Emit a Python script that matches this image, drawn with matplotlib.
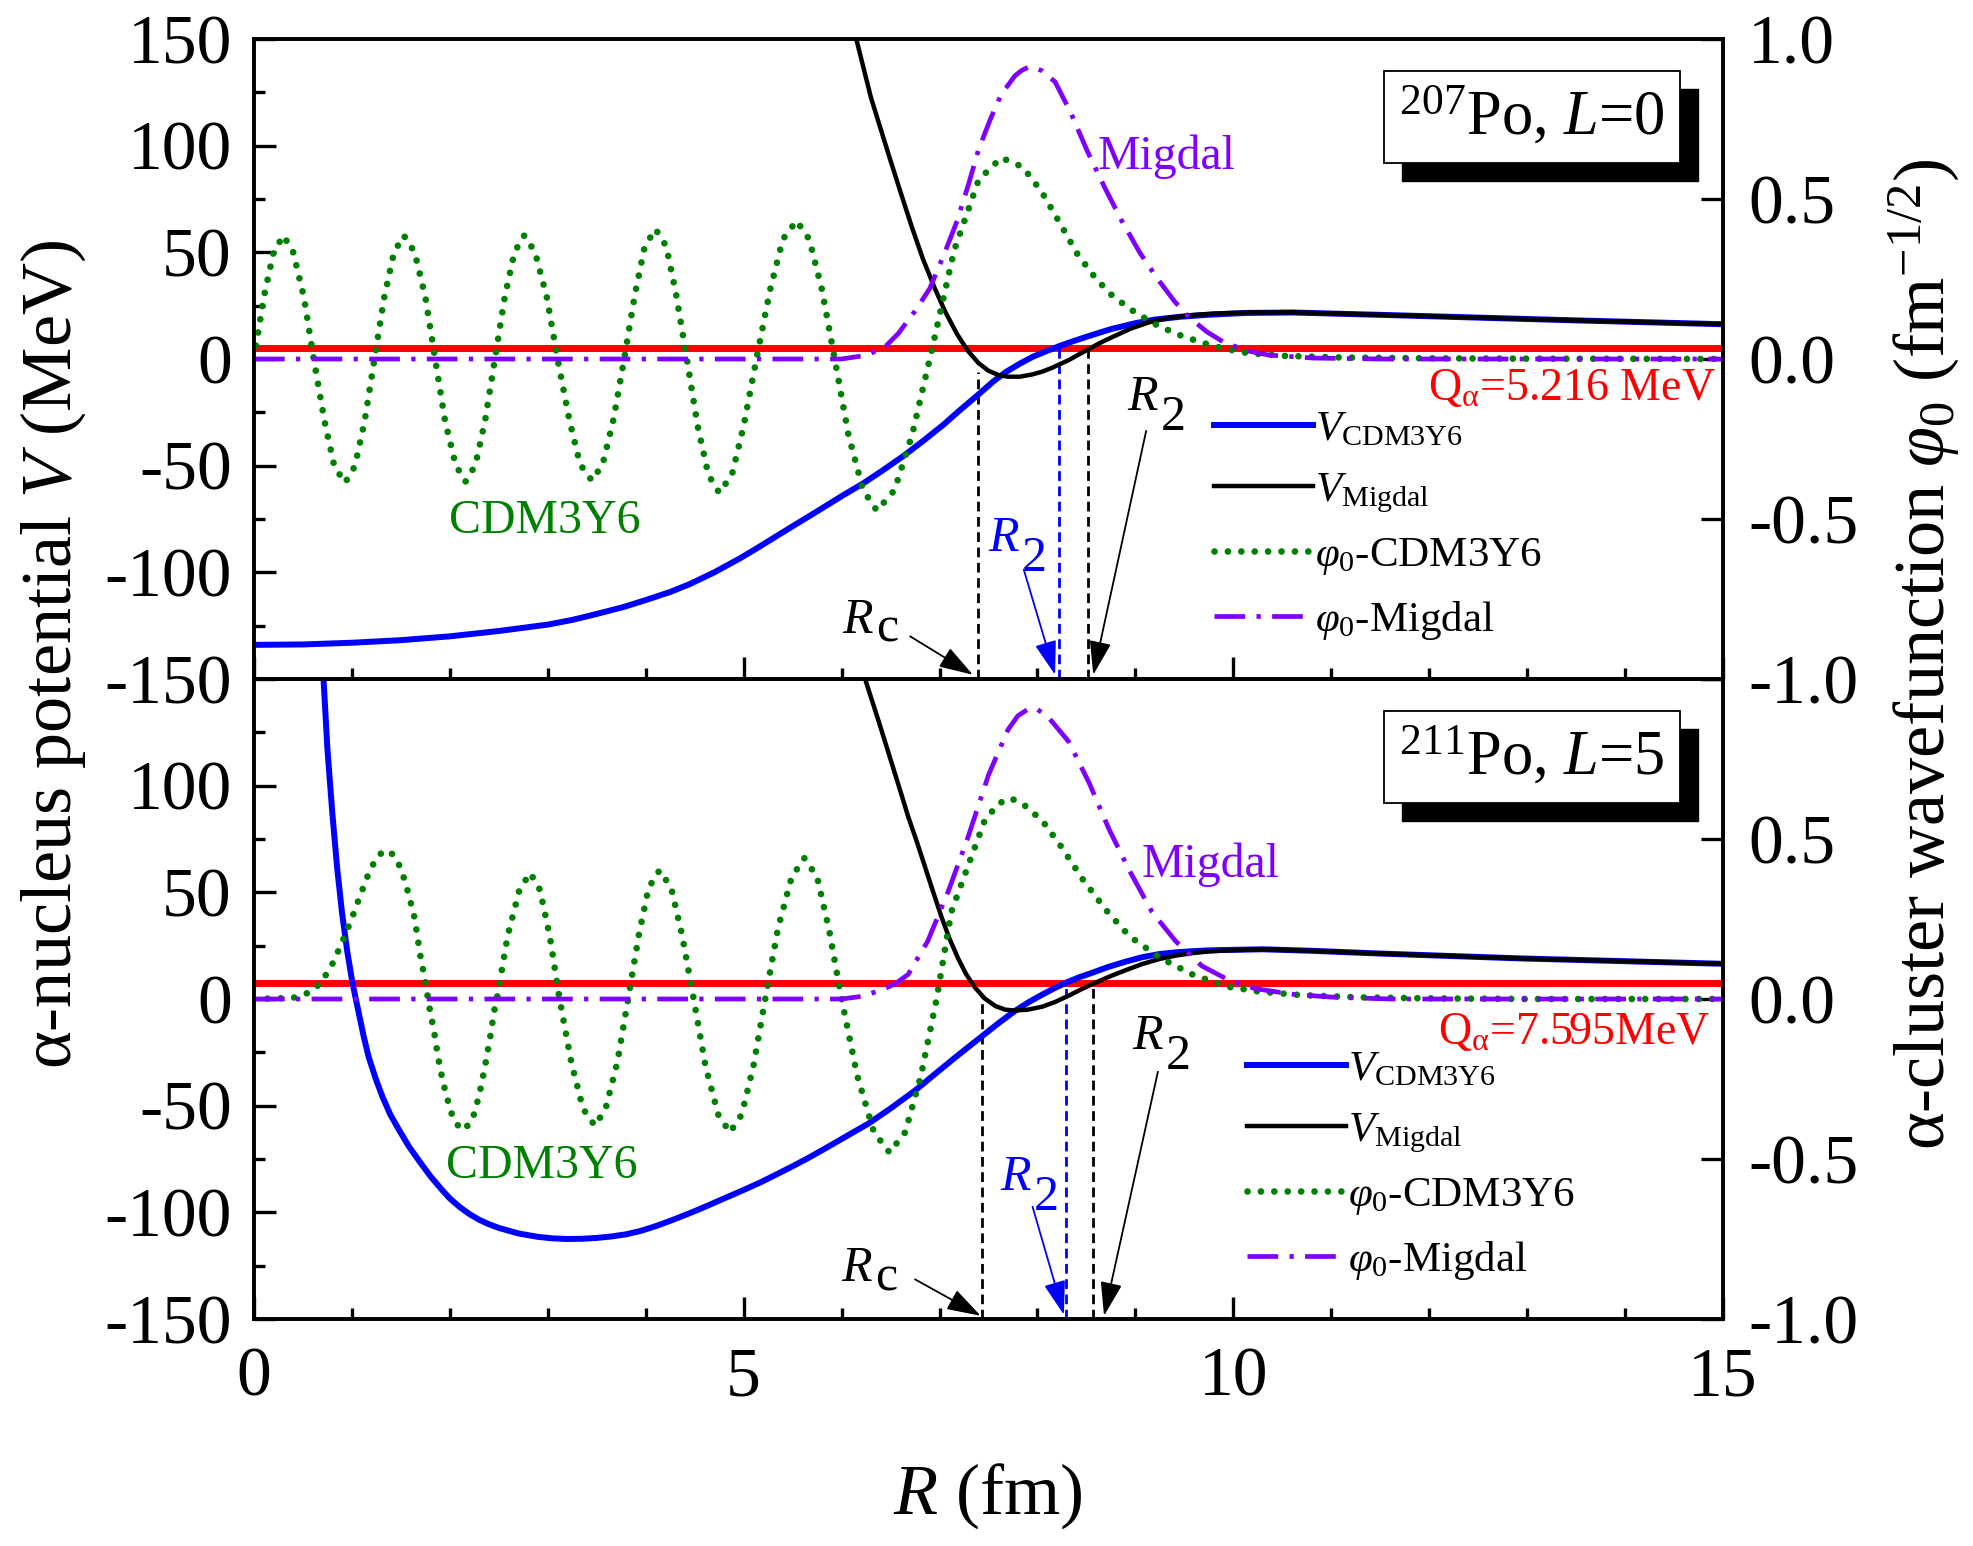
import matplotlib
matplotlib.use('Agg')
import matplotlib.pyplot as plt
from matplotlib.ticker import MultipleLocator
from matplotlib.transforms import offset_copy
from matplotlib.patches import Rectangle

# values, (R in fm, V in MeV) or (R in fm, phi in fm^-1/2)

# 207Po, L=0 (top panel)
vcdm_top = [(0.0, -134.0), (0.5, -133.8), (1.0, -133.0), (1.5, -131.8), (2.0, -130.0), (2.5, -127.5),
            (3.0, -124.5), (3.25, -122.3), (3.5, -119.5), (3.77, -116.3), (4.0, -113.0), (4.25, -109.2),
            (4.45, -105.5), (4.7, -100.0), (4.96, -93.5), (5.15, -88.3), (5.34, -82.9), (5.55, -77.0),
            (5.8, -70.0), (6.0, -64.3), (6.22, -58.3), (6.42, -52.2), (6.63, -45.5), (6.83, -38.5),
            (7.04, -30.8), (7.2, -24.3), (7.40, -16.5), (7.55, -10.5), (7.68, -6.0), (7.82, -2.2),
            (7.95, 1.0), (8.08, 3.5), (8.22, 6.0), (8.38, 8.6), (8.54, 11.0), (8.75, 14.0), (9.0, 16.8),
            (9.2, 18.5), (9.46, 19.8), (9.7, 20.6), (9.9, 21.1), (10.14, 21.6), (10.6, 21.8),
            (11.5, 20.7), (12.5, 19.4), (13.5, 18.1), (14.5, 16.9), (15.0, 16.3)]
vmig_top = [(6.05, 168), (6.15, 150), (6.30, 122.5), (6.49, 94.4), (6.60, 78.5), (6.72, 61.5),
            (6.83, 47), (6.95, 33.3), (7.06, 22), (7.18, 11.6), (7.29, 3.8), (7.40, -2.0), (7.50, -5.5),
            (7.60, -7.5), (7.70, -8.3), (7.82, -8.3), (7.95, -7.2), (8.05, -5.9), (8.15, -4.1),
            (8.32, -0.5), (8.52, 4.6), (8.65, 7.8), (8.77, 10.4), (8.95, 14.2), (9.14, 17.2),
            (9.35, 19.3), (9.55, 20.5), (9.8, 21.3), (10.14, 21.8), (10.6, 21.9), (11.5, 20.7),
            (12.5, 19.4), (13.5, 18.1), (14.5, 16.9), (15.0, 16.3)]
phicdm_top = [(0.00, 0.000), (0.10, 0.193), (0.20, 0.334), (0.30, 0.386), (0.40, 0.334), (0.51, 0.193),
              (0.61, 0.000), (0.72, -0.194), (0.82, -0.335), (0.93, -0.387), (1.03, -0.335),
              (1.13, -0.194), (1.23, 0.000), (1.33, 0.193), (1.43, 0.334), (1.53, 0.386), (1.64, 0.334),
              (1.75, 0.193), (1.85, 0.000), (1.95, -0.192), (2.06, -0.332), (2.16, -0.383),
              (2.26, -0.332), (2.36, -0.192), (2.46, 0.000), (2.56, 0.193), (2.66, 0.334), (2.76, 0.386),
              (2.87, 0.334), (2.99, 0.193), (3.10, 0.000), (3.22, -0.190), (3.33, -0.329), (3.45, -0.380),
              (3.56, -0.329), (3.67, -0.190), (3.78, 0.000), (3.89, 0.203), (3.99, 0.352), (4.10, 0.406),
              (4.21, 0.352), (4.31, 0.203), (4.42, 0.000), (4.53, -0.209), (4.64, -0.362), (4.75, -0.418),
              (4.88, -0.362), (5.00, -0.209), (5.13, 0.000), (5.27, 0.216), (5.40, 0.374), (5.54, 0.432),
              (5.67, 0.374), (5.80, 0.216), (5.93, 0.000), (6.07, -0.237), (6.22, -0.410), (6.36, -0.474),
              (6.54, -0.410), (6.72, -0.237), (6.90, 0.000), (7.15, 0.340), (7.40, 0.560), (7.63, 0.629),
              (7.85, 0.600), (8.04, 0.524), (8.20, 0.440), (8.41, 0.327), (8.60, 0.250), (8.77, 0.196),
              (9.00, 0.145), (9.23, 0.104), (9.45, 0.075), (9.68, 0.051), (9.90, 0.033), (10.14, 0.019),
              (10.50, 0.010), (11.05, 0.005), (12.0, 0.002), (13.0, 0.001), (15.0, 0.000)]
phimig_top = [(0, 0), (6.0, 0), (6.26, 0.012), (6.45, 0.04), (6.58, 0.08), (6.75, 0.15), (6.90, 0.22),
              (7.05, 0.33), (7.18, 0.432), (7.30, 0.55), (7.40, 0.656), (7.52, 0.75), (7.63, 0.827),
              (7.77, 0.885), (7.84, 0.902), (7.91, 0.912), (7.98, 0.910), (8.05, 0.90), (8.18, 0.866),
              (8.34, 0.77), (8.50, 0.656), (8.68, 0.54), (8.86, 0.432), (9.05, 0.33), (9.23, 0.249),
              (9.40, 0.18), (9.55, 0.130), (9.73, 0.085), (9.91, 0.051), (10.15, 0.025), (10.37, 0.012),
              (10.82, 0.003), (11.5, 0.0), (15.0, 0.0)]

# 211Po, L=5 (bottom panel)
vcdm_bot = [(0.66, 200), (0.71, 150), (0.75, 117), (0.80, 87), (0.85, 61), (0.90, 40), (0.95, 23),
            (1.00, 9), (1.035, 1), (1.07, -6.6), (1.12, -17.5), (1.17, -27), (1.24, -37), (1.31, -45.6),
            (1.39, -54), (1.48, -61.3), (1.58, -69), (1.68, -75.5), (1.80, -83), (1.92, -89.5),
            (2.0, -93.5), (2.1, -97.5), (2.2, -100.8), (2.3, -103.5), (2.4, -105.6), (2.5, -107.3),
            (2.7, -109.9), (2.9, -111.5), (3.05, -112.2), (3.2, -112.5), (3.35, -112.4), (3.5, -112),
            (3.65, -111.3), (3.8, -110.3), (3.95, -108.7), (4.1, -106.5), (4.25, -104.0), (4.4, -101.3),
            (4.55, -98.5), (4.69, -95.7), (4.85, -92.5), (5.0, -89.5), (5.17, -86.0), (5.34, -82.1),
            (5.5, -78.4), (5.66, -74.5), (5.85, -69.6), (6.05, -64.3), (6.27, -58.5), (6.5, -51.3),
            (6.75, -42.9), (6.95, -35.3), (7.16, -27.4), (7.3, -22.3), (7.43, -17.6), (7.6, -11.4),
            (7.77, -5.6), (7.91, -1.5), (8.05, 2.1), (8.17, 5.0), (8.29, 7.6), (8.42, 10.1),
            (8.56, 12.3), (8.72, 15.0), (8.90, 17.5), (9.07, 19.6), (9.25, 21.1), (9.42, 21.9),
            (9.58, 22.4), (9.75, 22.8), (9.93, 23.0), (10.30, 23.3), (10.80, 22.6), (11.50, 21.3),
            (12.95, 19.0), (15.0, 16.5)]
vmig_bot = [(6.15, 168), (6.24, 150), (6.38, 130), (6.51, 110.8), (6.60, 97.5), (6.68, 85.5),
            (6.77, 73.5), (6.85, 62.2), (6.94, 49.5), (7.02, 38.5), (7.10, 28.5), (7.19, 19.0),
            (7.27, 11.8), (7.36, 5.5), (7.46, 0.3), (7.57, -3.3), (7.67, -5.0), (7.77, -5.4),
            (7.90, -5.0), (8.05, -3.6), (8.18, -1.4), (8.32, 1.6), (8.45, 4.6), (8.59, 7.6),
            (8.75, 10.8), (8.90, 13.5), (9.07, 16.4), (9.25, 18.8), (9.42, 20.4), (9.58, 21.5),
            (9.75, 22.3), (9.93, 22.8), (10.30, 23.3), (10.80, 22.6), (11.50, 21.3), (12.95, 19.0),
            (15.0, 16.5)]
phicdm_bot = [(0.00, 0.000), (0.39, 0.003), (0.51, 0.013), (0.62, 0.031), (0.70, 0.060), (0.78, 0.096),
              (0.89, 0.170), (0.99, 0.245), (1.08, 0.320), (1.175, 0.396), (1.25, 0.440), (1.33, 0.465),
              (1.42, 0.452), (1.50, 0.409), (1.575, 0.332), (1.64, 0.253), (1.70, 0.133), (1.75, 0.054),
              (1.79, -0.024), (1.84, -0.104), (1.88, -0.183), (1.93, -0.260), (2.00, -0.341),
              (2.04, -0.378), (2.12, -0.410), (2.21, -0.389), (2.26, -0.349), (2.32, -0.271),
              (2.37, -0.192), (2.415, -0.113), (2.455, -0.034), (2.48, 0.000), (2.59, 0.197),
              (2.71, 0.341), (2.82, 0.394), (2.92, 0.341), (3.02, 0.197), (3.12, 0.000), (3.24, -0.198),
              (3.36, -0.343), (3.48, -0.396), (3.59, -0.343), (3.71, -0.198), (3.82, 0.000),
              (3.93, 0.201), (4.03, 0.348), (4.14, 0.402), (4.26, 0.348), (4.37, 0.201), (4.49, 0.000),
              (4.61, -0.209), (4.74, -0.361), (4.86, -0.417), (4.98, -0.361), (5.10, -0.209),
              (5.22, 0.000), (5.35, 0.220), (5.49, 0.381), (5.62, 0.440), (5.75, 0.381), (5.87, 0.220),
              (6.00, 0.000), (6.16, -0.240), (6.33, -0.416), (6.49, -0.480), (6.65, -0.416),
              (6.81, -0.240), (6.97, 0.000), (7.12, 0.272), (7.29, 0.415), (7.46, 0.557), (7.60, 0.610),
              (7.72, 0.628), (7.85, 0.610), (8.05, 0.557), (8.25, 0.473), (8.46, 0.375), (8.70, 0.278),
              (8.94, 0.196), (9.25, 0.129), (9.58, 0.077), (9.93, 0.039), (10.27, 0.023), (10.70, 0.012),
              (11.30, 0.005), (12.0, 0.002), (13.0, 0.000), (15.0, 0.000)]
phimig_bot = [(0, 0), (6.0, 0), (6.2, 0.008), (6.41, 0.028), (6.55, 0.048), (6.68, 0.077), (6.88, 0.181),
              (7.09, 0.337), (7.29, 0.505), (7.50, 0.70), (7.70, 0.842), (7.80, 0.885), (7.91, 0.907),
              (8.0, 0.905), (8.11, 0.881), (8.32, 0.804), (8.53, 0.674), (8.73, 0.531), (8.94, 0.401),
              (9.17, 0.272), (9.41, 0.181), (9.68, 0.103), (9.96, 0.058), (10.23, 0.032), (10.6, 0.015),
              (11.0, 0.006), (11.6, 0.0), (15.0, 0.0)]

# Q values and the radii marked by dashed lines
q_alpha = [5.216, 7.595]
r_c = [7.39, 7.43]
r_c_end = [-6.0, 1.0]
r2_cdm = [8.22, 8.29]
r2_mig = [8.52, 8.57]
titles = [r'$^{207}$Po, $L$=0', r'$^{211}$Po, $L$=5']
q_labels = [r'Q$_{\mathrm{\alpha}}$=5.216 MeV', r'Q$_{\mathrm{\alpha}}$=7.595MeV']

plt.rcParams.update({
    'font.family': ['Liberation Serif', 'DejaVu Serif'],
    'mathtext.fontset': 'custom',
    'mathtext.rm': 'Liberation Serif',
    'mathtext.it': 'Liberation Serif:italic',
    'mathtext.bf': 'Liberation Serif:bold',
    'axes.unicode_minus': False,
})

BLUE = '#0000FF'
GREEN = '#008000'
PURPLE = '#8000FF'
RED = '#FF0000'

fig = plt.figure(figsize=(19.74, 15.46), dpi=100)
ax_top = fig.add_axes([0.12867, 0.56080, 0.74417, 0.41397])
ax_bot = fig.add_axes([0.12867, 0.14683, 0.74417, 0.41397])

panels = [
    (ax_top, vcdm_top, vmig_top, phicdm_top, phimig_top),
    (ax_bot, vcdm_bot, vmig_bot, phicdm_bot, phimig_bot),
]

# label spots (data coords) per panel
migdal_xy = [(8.61, 95), (9.06, 63)]
cdm_xy = [(1.99, -76), (1.96, -78.5)]
q_xy = [(14.93, -14), (14.87, -15.7)]
# (x where R meets its subscript, baseline of R, subscript)
r_labels = [
    [(6.32, -128.3, 'c', 'black'), (7.81, -89.9, '2', BLUE), (9.23, -23.8, '2', 'black')],
    [(6.31, -132.4, 'c', 'black'), (7.93, -89.6, '2', BLUE), (9.28, -23.4, '2', 'black')],
]
# arrow tail -> head
arrows = [
    [((6.70, -130), (7.34, -148), 'black'), ((7.86, -98.7), (8.18, -148), BLUE),
     ((9.11, -33.7), (8.57, -148), 'black')],
    [((6.75, -131.4), (7.42, -148.5), 'black'), ((7.95, -97.4), (8.27, -148), BLUE),
     ((9.23, -34.1), (8.68, -148.5), 'black')],
]
leg_x = [0.6533, 0.676]
title_boxes = []

for i, (ax, vc, vm, pc, pm) in enumerate(panels):
    ax2 = ax.twinx()

    ax.axhline(q_alpha[i], color=RED, lw=5, zorder=1)
    l_vc, = ax.plot(*zip(*vc), color=BLUE, lw=4.3, zorder=3, label=r'$V_{\rm CDM3Y6}$')
    l_vm, = ax.plot(*zip(*vm), color='black', lw=3.2, zorder=4, label=r'$V_{\rm Migdal}$')
    l_pc, = ax2.plot(*zip(*pc), color=GREEN, lw=4.8, ls=(0, (0.01, 2.0)), dash_capstyle='round',
                     label=r'$\varphi_{\mathit{0}}$-CDM3Y6')
    l_pm, = ax2.plot(*zip(*pm), color=PURPLE, lw=3.4, ls=(0, (6.5, 2.4, 0.9, 2.4)),
                     label=r'$\varphi_{\mathit{0}}$-Migdal')

    # dashed markers for Rc and R2
    ax.vlines(r_c[i], -150, r_c_end[i], color='black', lw=2, ls=(0, (3.5, 2)), zorder=2)
    ax.vlines(r2_cdm[i], -150, q_alpha[i], color=BLUE, lw=2, ls=(0, (3.5, 2)), zorder=2)
    ax.vlines(r2_mig[i], -150, q_alpha[i], color='black', lw=2, ls=(0, (3.5, 2)), zorder=2)

    ax.set_xlim(0, 15)
    ax.set_ylim(-150, 150)
    ax2.set_ylim(-1, 1)

    ax.xaxis.set_major_locator(MultipleLocator(5))
    ax.xaxis.set_minor_locator(MultipleLocator(1))
    ax.set_yticks([-150, -100, -50, 0, 50, 100, 150])
    ax.yaxis.set_minor_locator(MultipleLocator(25))
    ax2.set_yticks([-1.0, -0.5, 0.0, 0.5, 1.0])
    if i == 0:
        ax.set_yticklabels(['-150', '-100', '-50', '0', '50', '100', '150'])
        ax2.set_yticklabels(['-1.0', '-0.5', '0.0', '0.5', '1.0'])
    else:
        ax.set_yticklabels(['-150', '-100', '-50', '0', '50', '100', ''])
        ax2.set_yticklabels(['-1.0', '-0.5', '0.0', '0.5', ''])

    for a in (ax, ax2):
        for s in a.spines.values():
            s.set_linewidth(2.6)
    ax.tick_params(which='both', direction='in', width=2.4, top=False, right=False,
                   labelsize=50, labelbottom=(i == 1))
    ax.tick_params(which='major', length=16)
    ax.tick_params(which='minor', length=8)
    ax.tick_params(axis='y', pad=16)
    ax.tick_params(axis='x', pad=20)
    ax2.tick_params(which='major', direction='in', width=2.4, length=16, labelsize=50, pad=18)
    ax2.tick_params(which='minor', right=False)

    # panel labels
    ax.text(*migdal_xy[i], 'Migdal', color=PURPLE, fontsize=34.5, ha='left', va='center')
    ax.text(*cdm_xy[i], 'CDM3Y6', color=GREEN, fontsize=34.5, ha='left', va='center')
    ax.text(*q_xy[i], q_labels[i], color=RED, fontsize=33, ha='right', va='center')
    for x, y, sub, col in r_labels[i]:
        ax.text(x, y, 'R', style='italic', color=col, fontsize=36, ha='right', va='baseline')
        drop = 20 if sub == '2' else 9
        ax.text(x, y, sub, color=col, fontsize=36, ha='left', va='baseline',
                transform=offset_copy(ax.transData, fig=fig, x=3, y=-drop, units='dots'))

    for tail, head, col in arrows[i]:
        ax.annotate('', xy=head, xytext=tail,
                    arrowprops=dict(arrowstyle='-|>,head_length=1.4,head_width=0.45', color=col,
                                    lw=1.3, mutation_scale=15, shrinkA=0, shrinkB=0))

    # title box (shadow added after a first draw)
    t = ax.text(13.05, 113.4, titles[i], fontsize=45, ha='center', va='center', color='black',
                bbox=dict(boxstyle='square,pad=0.24', lw=1.3, fc='white', ec='black'), zorder=9)
    title_boxes.append((ax, t))

    ax2.legend(handles=[l_vc, l_vm, l_pc, l_pm], loc='upper left',
               bbox_to_anchor=(leg_x[i], 0.42), bbox_transform=ax.transAxes,
               frameon=False, fontsize=31, handlelength=2.3, handletextpad=0.05,
               borderpad=0, borderaxespad=0, labelspacing=0.5)

fig.text(0.5007, 0.032, r'$R$ (fm)', fontsize=52, ha='center', va='center')
fig.text(0.027, 0.577, r'α-nucleus potential $V$ (MeV)', fontsize=52, rotation=90,
         ha='center', va='center')
fig.text(0.975, 0.577, r'α-cluster wavefunction $\varphi_{\mathit{0}}$ (fm$^{-1/2}$)',
         fontsize=52, rotation=90, ha='center', va='center')

# drop shadow behind each title box
fig.canvas.draw()
for ax, t in title_boxes:
    bb = t.get_bbox_patch().get_window_extent()
    ax.add_artist(Rectangle((bb.x0 + 18, bb.y0 - 18), bb.width, bb.height, transform=None,
                            fc='black', ec='black', zorder=8))

fig.savefig('out.png', dpi=100)
